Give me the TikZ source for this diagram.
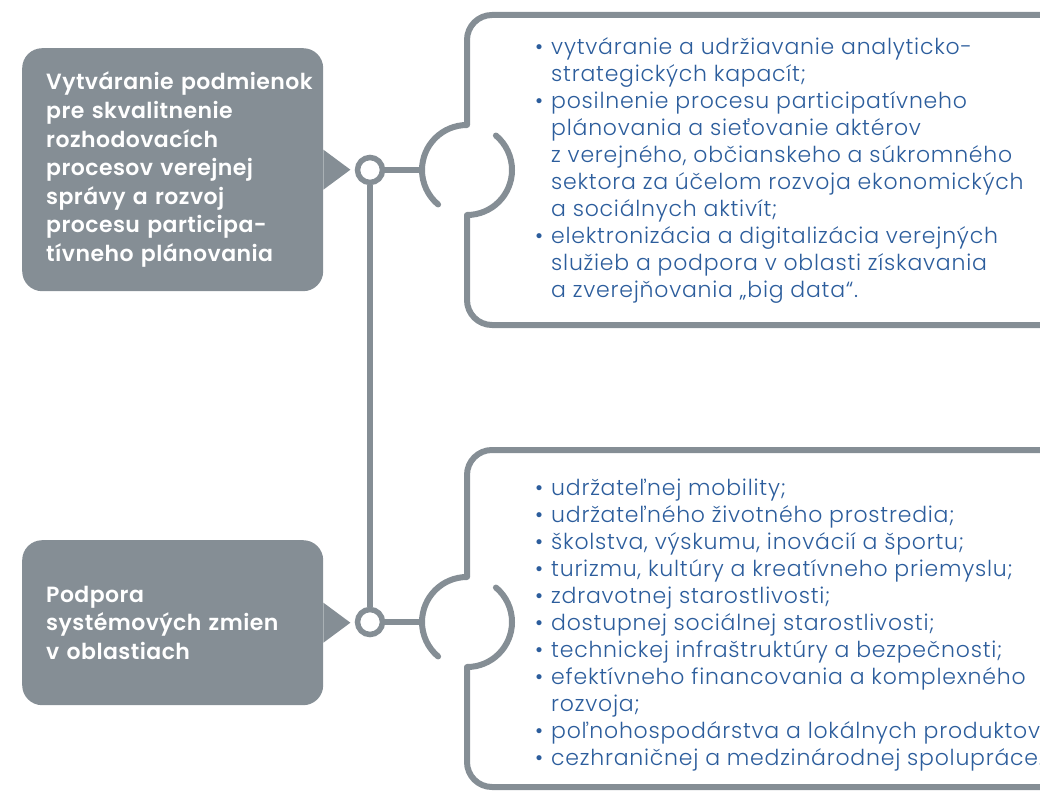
\documentclass[tikz,border=0pt]{standalone}
\usepackage{fontspec}
\setmainfont{Poppins}
\newfontfamily\goalfont{Poppins SemiBold}[LetterSpace=2]
\newfontfamily\listfont{Poppins Light}[LetterSpace=3.5]
\usetikzlibrary{positioning}
\definecolor{framegray}{HTML}{858E95}
\definecolor{listblue}{HTML}{2C5D9C}
\newcommand{\bul}{\makebox[16pt][l]{\textbullet}}
\newcommand{\ind}{\hspace*{16pt}}

\begin{document}
\begin{tikzpicture}[x=1pt, y=-1pt,
    goal/.style={rectangle, rounded corners=20pt, fill=framegray, text=white,
                 minimum width=301pt, text width=253pt, inner xsep=24pt, align=left,
                 anchor=north west, font=\goalfont\fontsize{22}{28.6}\selectfont},
    hub/.style={circle, draw=framegray, fill=white, line width=5.5pt,
                minimum size=25pt, inner sep=0pt},
    link/.style={draw=framegray, line width=5.5pt},
    frame/.style={draw=framegray, line width=6pt, rounded corners=25pt},
    cup/.style={draw=framegray, line width=6pt, line cap=round},
    items/.style={text=listblue, align=left, inner sep=0pt, anchor=west,
                  font=\listfont\fontsize{22}{27}\selectfont}
  ]
    \clip (0,0) rectangle (1040,791);

    %% left goals
    \node[goal, minimum height=243pt] (g1) at (22,48)
      {\mbox{Vytváranie podmienok}\\ pre skvalitnenie\\ rozhodovacích\\
       procesov verejnej\\ správy a rozvoj\\ \mbox{procesu participa-}\\ tívneho plánovania};
    \node[goal, minimum height=165pt] (g2) at (22,540)
      {Podpora\\ systémových zmien\\ v oblastiach};
    \fill[framegray] (g1.east) ++(0,-20) -- ++(27,20) -- ++(-27,20) -- cycle;
    \fill[framegray] (g2.east) ++(0,-20) -- ++(27,20) -- ++(-27,20) -- cycle;

    %% hubs and links
    \node[hub] (h1) at (370,170) {};
    \node[hub] (h2) at (370,622) {};
    \coordinate (a1) at (422,170);
    \coordinate (a2) at (422,622);
    \draw[link] (h1) -- (h2);
    \draw[link] (h1) -- (a1);
    \draw[link] (h2) -- (a2);

    %% upper frame
    \draw[frame] (467,125) -- (467,15) -- (1070,15) -- (1070,325) -- (467,325) -- (467,215);
    \draw[cup] (467,125) arc[start angle=270, end angle=130, radius=45];
    \draw[cup] (467,215) arc[start angle=90, end angle=-50, radius=45];

    %% lower frame
    \draw[frame] (467,577) -- (467,450) -- (1070,450) -- (1070,787) -- (467,787) -- (467,667);
    \draw[cup] (467,577) arc[start angle=270, end angle=130, radius=45];
    \draw[cup] (467,667) arc[start angle=90, end angle=-50, radius=45];

    %% lists
    \node[items] (l1) at (535,170)
      {\bul vytváranie a udržiavanie analyticko-\\
       \ind strategických kapacít;\\
       \bul posilnenie procesu participatívneho\\
       \ind plánovania a sieťovanie aktérov\\
       \ind z verejného, občianskeho a súkromného\\
       \ind sektora za účelom rozvoja ekonomických\\
       \ind a sociálnych aktivít;\\
       \bul elektronizácia a digitalizácia verejných\\
       \ind služieb a podpora v oblasti získavania\\
       \ind a zverejňovania „big data“.};
    \node[items] (l2) at (535,625)
      {\bul udržateľnej mobility;\\
       \bul udržateľného životného prostredia;\\
       \bul školstva, výskumu, inovácií a športu;\\
       \bul turizmu, kultúry a kreatívneho priemyslu;\\
       \bul zdravotnej starostlivosti;\\
       \bul dostupnej sociálnej starostlivosti;\\
       \bul technickej infraštruktúry a bezpečnosti;\\
       \bul efektívneho financovania a komplexného\\
       \ind rozvoja;\\
       \bul poľnohospodárstva a lokálnych produktov;\\
       \bul cezhraničnej a medzinárodnej spolupráce.};
\end{tikzpicture}
\end{document}
